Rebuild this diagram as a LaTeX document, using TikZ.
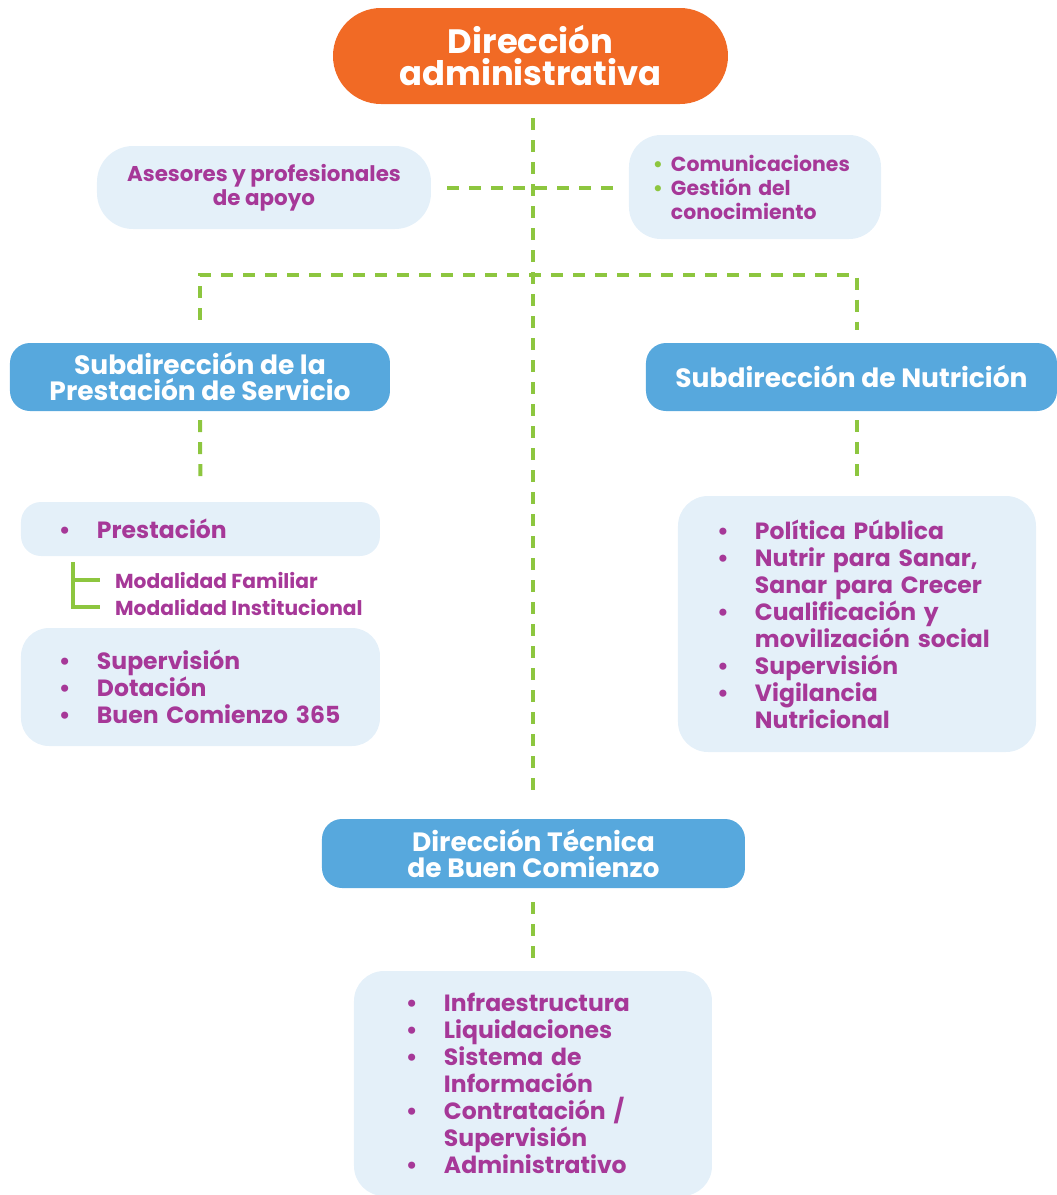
\documentclass[tikz,border=0pt]{standalone}
\usepackage{fontspec}
\setmainfont{Poppins}
\usepackage{tikz}
\usetikzlibrary{shapes.geometric, shapes.misc, arrows, calc}
\definecolor{naranja}{RGB}{241,106,37}
\definecolor{azul}{RGB}{87,168,221}
\definecolor{celeste}{RGB}{228,240,249}
\definecolor{morado}{RGB}{166,56,152}
\definecolor{verde}{RGB}{141,198,63}
\newcommand{\punto}[1]{\makebox[38pt][l]{\textbullet}#1}
\newcommand{\sigue}[1]{\hspace*{38pt}#1}
\newcommand{\vpunto}[1]{\makebox[18pt][l]{\textcolor{verde}{\textbullet}}#1}

\begin{document}
\begin{tikzpicture}[node distance=150pt]
%
% Skiss:
%            Direccion administrativa
% Asesores - - - - - | - - - - - Comunicaciones
%      ----------------------------------
%      |             |                  |
%  Subd. Prestacion  |            Subd. Nutricion
%      |             |                  |
%   listas           |               lista
%              Direccion Tecnica
%                    |
%                  lista
%
% Styles
\tikzstyle{jefe} = [rounded rectangle, minimum width=395pt, minimum height=96pt, fill=naranja, text=white, font=\fontsize{33.8}{32}\selectfont\bfseries, align=center, inner sep=0pt]
\tikzstyle{sub} = [rectangle, rounded corners=20pt, minimum height=68pt, fill=azul, text=white, font=\fontsize{26.5}{26}\selectfont\bfseries, align=center, inner sep=0pt]
\tikzstyle{caja} = [rectangle, rounded corners=26pt, fill=celeste, text=morado, align=left, inner ysep=0pt, font=\fontsize{23.5}{27}\selectfont\bfseries]
\tikzstyle{rama} = [text=morado, font=\fontsize{20.2}{27}\selectfont\bfseries, inner sep=0pt, anchor=west]
\tikzstyle{linea} = [draw=verde, line width=4pt, dash pattern=on 12pt off 10pt]
\tikzstyle{corchete} = [draw=verde, line width=4pt]
\useasboundingbox (-530.5pt,56pt) rectangle (526.5pt,-1139pt);
% Nodes
\node (dir) [jefe] {Dirección\\administrativa};
\node (ases) [caja, rounded corners=36pt, below of=dir, xshift=-266.5pt, yshift=18.5pt, minimum width=334pt, minimum height=83pt, align=center, font=\fontsize{21.4}{24}\selectfont\bfseries] {Asesores y profesionales\\de apoyo};
\node (com) [caja, rounded corners=32pt, right of=ases, xshift=341pt, yshift=0.5pt, minimum width=252pt, minimum height=104pt, text width=204pt, inner xsep=24pt, font=\fontsize{20.4}{24}\selectfont\bfseries] {\vpunto{Comunicaciones}\\\vpunto{Gestión del}\\\hspace*{18pt}conocimiento};
\node (serv) [sub, below of=ases, xshift=-64pt, yshift=-39.5pt, minimum width=380pt] {Subdirección de la\\Prestación de Servicio};
\node (nut) [sub, right of=serv, xshift=501.5pt, minimum width=411pt] {Subdirección de Nutrición};
\node (prest) [caja, below of=serv, xshift=0.5pt, yshift=-2pt, minimum width=359pt, minimum height=54pt, text width=283pt, inner xsep=38pt, rounded corners=20pt] {\punto{Prestación}};
\node (fam) [rama] at (-415.5pt,-524pt) {Modalidad Familiar};
\node (inst) [rama] at (-415.5pt,-551pt) {Modalidad Institucional};
\node (sup) [caja, below of=prest, yshift=-8pt, minimum width=359pt, minimum height=118pt, text width=283pt, inner xsep=38pt, rounded corners=28pt] {\punto{Supervisión}\\\punto{Dotación}\\\punto{Buen Comienzo 365}};
\node (nutlist) [caja, below of=nut, xshift=5.5pt, yshift=-97pt, minimum width=358pt, minimum height=256pt, text width=280pt, inner xsep=39pt, rounded corners=30pt] {\punto{Política Pública}\\\punto{Nutrir para Sanar,}\\\sigue{Sanar para Crecer}\\\punto{Cualificación y}\\\sigue{movilización social}\\\punto{Supervisión}\\\punto{Vigilancia}\\\sigue{Nutricional}};
\node (tec) [sub, below of=dir, xshift=3pt, yshift=-647.5pt, minimum width=423pt, minimum height=69pt] {Dirección Técnica\\de Buen Comienzo};
\node (bot) [caja, below of=tec, xshift=-0.5pt, yshift=-80pt, minimum width=358pt, minimum height=225pt, text width=254pt, inner xsep=52pt, rounded corners=30pt] {\punto{Infraestructura}\\\punto{Liquidaciones}\\\punto{Sistema de}\\\sigue{Información}\\\punto{Contratación /}\\\sigue{Supervisión}\\\punto{Administrativo}};
% Lines
\coordinate (bus) at ($(dir.south)+(0,-171pt)$);
\coordinate (esq) at ($(prest.south)+(-127.5pt,-6pt)$);
\draw [linea, shorten <=14pt, shorten >=19pt] (tec.north |- dir.south) -- (tec.north);
\draw [linea, shorten <=16pt, shorten >=12pt] (ases.east) -- (ases.east -| com.west);
\draw [linea, shorten <=23pt, shorten >=13pt] (serv.north) |- (bus) -| (nut.north -| nutlist.north);
\draw [linea, shorten <=9pt, shorten >=24pt] (serv.south) -- (prest.north);
\draw [linea, shorten <=9pt, shorten >=18pt] (nut.south -| nutlist.north) -- (nutlist.north);
\draw [linea, shorten <=14pt, shorten >=11pt] (tec.south -| bot.north) -- (bot.north);
\draw [corchete] (esq) |- ([xshift=-15pt]inst.west);
\draw [corchete] (esq |- fam.west) -- ([xshift=-15pt]fam.west);
\end{tikzpicture}
\end{document}
